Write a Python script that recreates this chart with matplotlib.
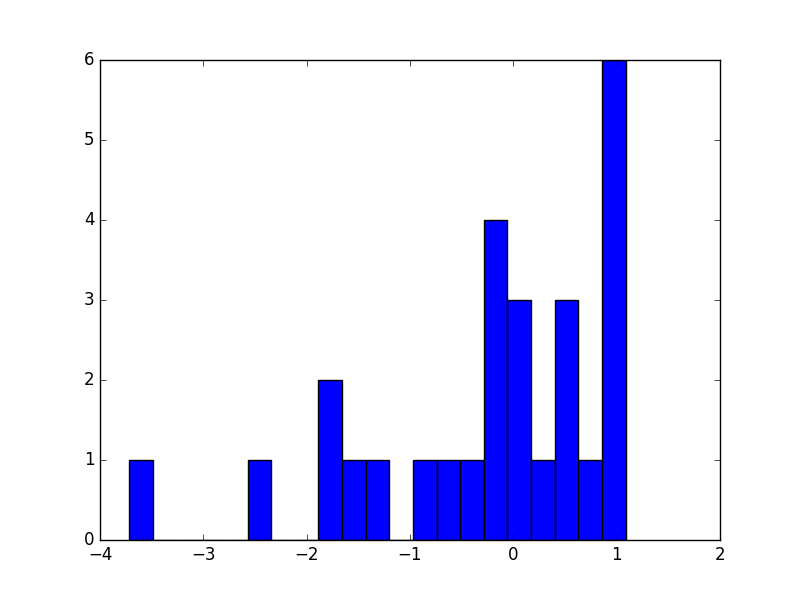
import numpy as np
import matplotlib
matplotlib.use("Agg")
import matplotlib.pyplot as plt

plt.style.use("classic")

# histogram: 21 equal bins
bin_lo, bin_hi = -3.716, 1.087
counts = [1, 0, 0, 0, 0, 1, 0, 0, 2, 1, 1, 0, 1, 1, 1, 4, 3, 1, 3, 1, 6]

edges = np.linspace(bin_lo, bin_hi, len(counts) + 1)

fig, ax = plt.subplots(figsize=(8, 6), dpi=100)
ax.hist(edges[:-1], bins=edges, weights=counts)
ax.set_xlim(-4, 2)
ax.set_ylim(0, 6)

fig.savefig("out.png", dpi=100)
